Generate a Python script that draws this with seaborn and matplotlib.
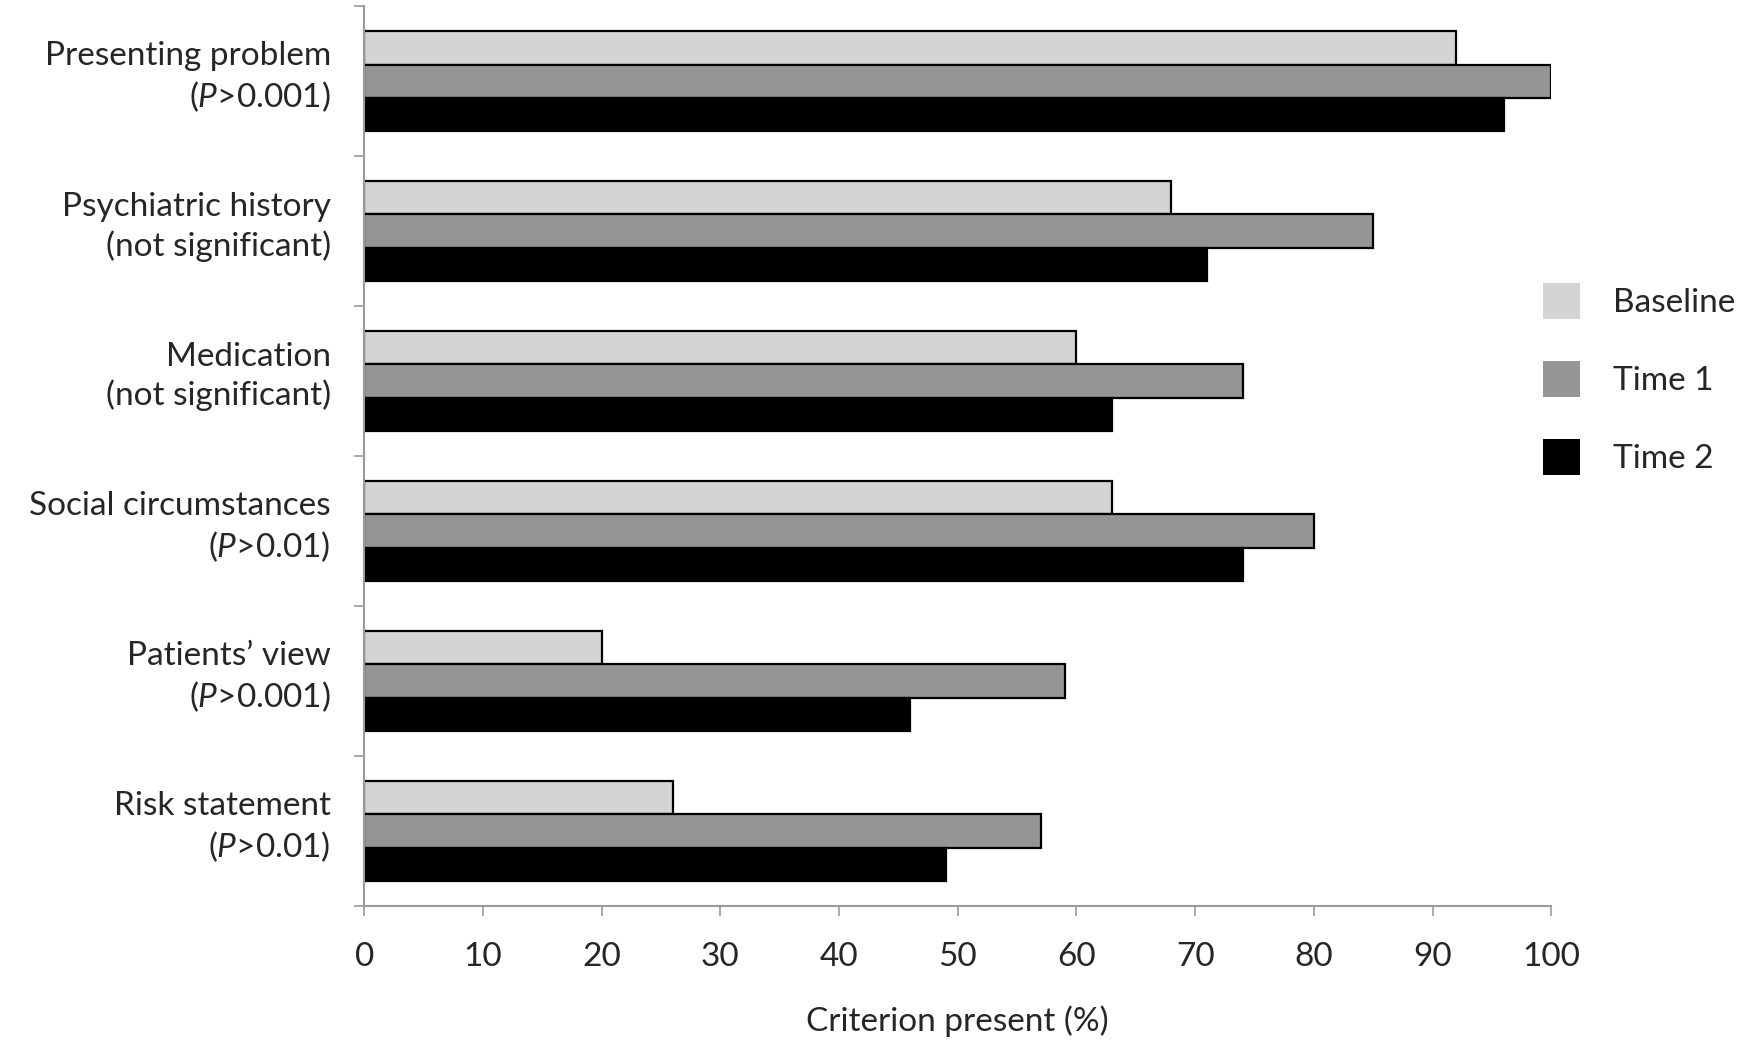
import pandas as pd
import matplotlib.pyplot as plt
import matplotlib.transforms as mtransforms
import seaborn as sns
from matplotlib.ticker import FixedLocator

# Data
categories = ['Presenting problem\n($P$>0.001)',
              'Psychiatric history\n(not significant)',
              'Medication\n(not significant)',
              'Social circumstances\n($P$>0.01)',
              "Patients\u2019 view\n($P$>0.001)",
              'Risk statement\n($P$>0.01)']
series = ['Baseline', 'Time 1', 'Time 2']
baseline = [92, 68, 60, 63, 20, 26]
time1 = [100, 85, 74, 80, 59, 57]
time2 = [96, 71, 63, 74, 46, 49]

df = pd.DataFrame({
    'Criterion': categories * 3,
    'Time': [s for s in series for _ in categories],
    'Percent': baseline + time1 + time2,
})

sns.set_style('white')
plt.rcParams['font.family'] = ['Lato', 'DejaVu Sans']
plt.rcParams['mathtext.fontset'] = 'custom'
plt.rcParams['mathtext.it'] = 'Lato:italic'
plt.rcParams['mathtext.rm'] = 'Lato'

palette = {'Baseline': '#d4d4d4', 'Time 1': '#959595', 'Time 2': '#000000'}

fig, ax = plt.subplots(figsize=(17.43, 10.52), dpi=100)
fig.subplots_adjust(left=0.209, right=0.89, bottom=0.139, top=0.994)

sns.barplot(data=df, y='Criterion', x='Percent', hue='Time', orient='h',
            palette=palette, width=0.67, edgecolor='black', linewidth=1.6,
            ax=ax, legend=True)

ax.set_xlim(0, 100)
ax.set_xticks(range(0, 101, 10))
ax.set_ylim(5.5, -0.5)
ax.set_xlabel('Criterion present (%)', fontsize=24, labelpad=24)
ax.set_ylabel('')

for s in ['top', 'right']:
    ax.spines[s].set_visible(False)
for s in ['left', 'bottom']:
    ax.spines[s].set_color('#9a9a9a')
    ax.spines[s].set_linewidth(1.5)

ax.tick_params(axis='x', labelsize=24, length=7, width=1.2, color='#9a9a9a',
               direction='out', bottom=True, pad=19)
ax.tick_params(axis='y', which='major', labelsize=24, length=0, pad=24)
ax.yaxis.set_minor_locator(FixedLocator([i - 0.5 for i in range(7)]))
ax.tick_params(axis='y', which='minor', left=True, length=7, width=1.2,
               color='#9a9a9a', direction='out')
shift = mtransforms.ScaledTranslation(0, 8 / 72, fig.dpi_scale_trans)
for lbl in ax.get_yticklabels():
    lbl.set_multialignment('right')
    lbl.set_linespacing(1.3)
    lbl.set_transform(lbl.get_transform() + shift)

handles, labels = ax.get_legend_handles_labels()
ax.get_legend().remove()
for h in handles:
    h.set_edgecolor('none')
fig.legend(handles, labels, loc='center left', bbox_to_anchor=(0.868, 0.64),
           frameon=False, fontsize=24, handlelength=1.1, handleheight=1.3,
           labelspacing=1.25, handletextpad=1.0)

plt.savefig('out.png', dpi=100)
